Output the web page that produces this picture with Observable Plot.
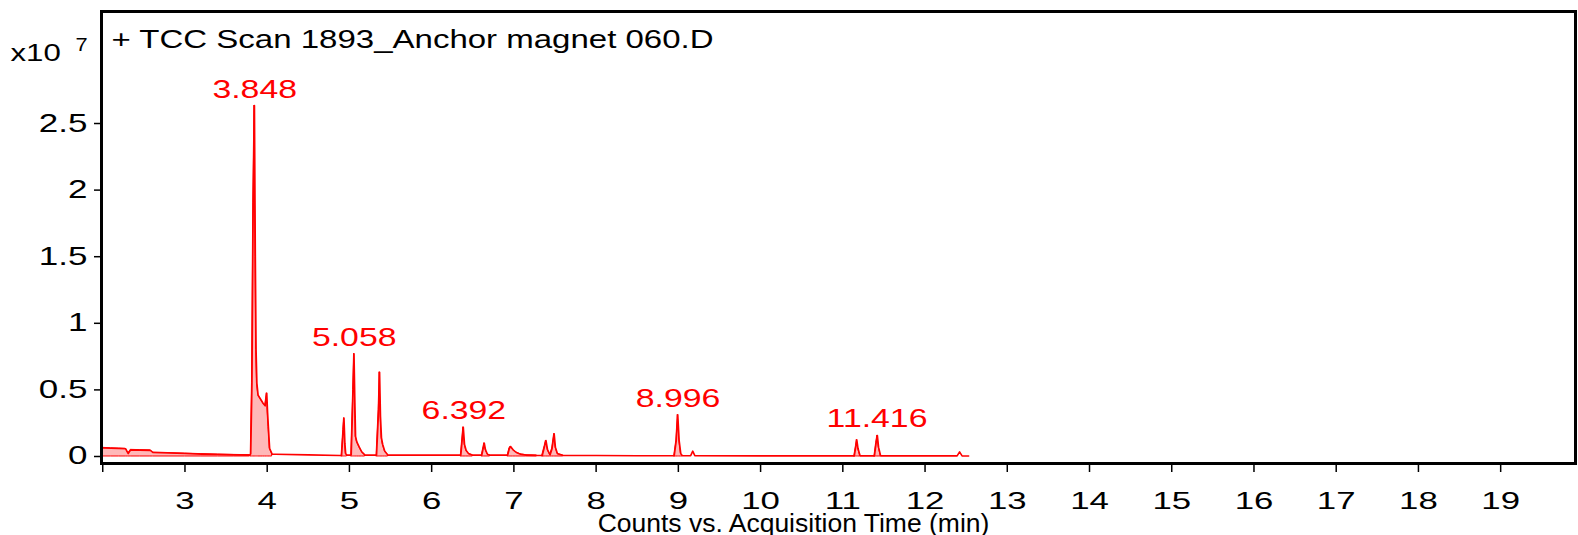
<!DOCTYPE html>
<html>
<head>
<meta charset="utf-8">
<script src="https://cdn.jsdelivr.net/npm/d3@7"></script>
<script src="https://cdn.jsdelivr.net/npm/@observablehq/plot@0.6"></script>
<style>
  html, body { margin: 0; padding: 0; background: #fff; }
  #chart svg { display: block; }
</style>
</head>
<body>
<div id="chart"></div>
<script>
// Retention time (min) of the chromatogram trace
const times = [
  2.00, 2.10, 2.20, 2.28, 2.31, 2.34, 2.45, 2.58, 2.61, 2.80, 3.00, 3.20, 3.40, 3.60, 3.79,
  3.80, 3.815, 3.83, 3.845, 3.856, 3.865, 3.875, 3.89, 3.92, 3.95, 3.975, 3.995, 4.005, 4.015, 4.03, 4.06,
  4.10, 4.50, 4.88,
  4.905, 4.925, 4.934, 4.945, 4.955, 4.97,
  5.00, 5.022, 5.045, 5.056, 5.065, 5.075, 5.09, 5.12, 5.15, 5.19,
  5.30, 5.33, 5.355, 5.367, 5.378, 5.39, 5.405, 5.43, 5.47,
  6.00, 6.355, 6.375, 6.385, 6.40, 6.42, 6.45, 6.50,
  6.61, 6.63, 6.64, 6.655, 6.68, 6.71,
  6.925, 6.945, 6.96, 6.99, 7.03, 7.08, 7.15, 7.28,
  7.345, 7.375, 7.39, 7.41, 7.44, 7.465, 7.49, 7.505, 7.53, 7.60,
  8.00, 8.50, 8.95, 8.975, 8.993, 9.01, 9.03, 9.05,
  9.15, 9.175, 9.20,
  10.0, 11.0, 11.14, 11.16, 11.17, 11.185, 11.21,
  11.385, 11.405, 11.42, 11.435, 11.46,
  12.0, 12.39, 12.42, 12.45, 12.53
];
// Counts (x10^7) at each time
const counts = [
  0.065, 0.062, 0.060, 0.058, 0.022, 0.050, 0.048, 0.046, 0.030, 0.026, 0.022, 0.018, 0.015, 0.012, 0.010,
  0.020, 0.550, 1.900, 2.635, 1.500, 0.800, 0.550, 0.460, 0.430, 0.400, 0.380, 0.475, 0.330, 0.220, 0.060, 0.018,
  0.017, 0.012, 0.008,
  0.008, 0.200, 0.288, 0.100, 0.020, 0.010,
  0.010, 0.012, 0.500, 0.771, 0.450, 0.150, 0.110, 0.070, 0.035, 0.010,
  0.010, 0.010, 0.350, 0.633, 0.300, 0.140, 0.090, 0.040, 0.010,
  0.010, 0.010, 0.150, 0.220, 0.090, 0.045, 0.020, 0.010,
  0.010, 0.070, 0.100, 0.050, 0.015, 0.010,
  0.010, 0.060, 0.075, 0.050, 0.030, 0.017, 0.010, 0.008,
  0.008, 0.080, 0.120, 0.050, 0.012, 0.060, 0.170, 0.070, 0.020, 0.008,
  0.007, 0.006, 0.006, 0.120, 0.313, 0.120, 0.020, 0.006,
  0.006, 0.040, 0.006,
  0.005, 0.005, 0.005, 0.080, 0.125, 0.060, 0.005,
  0.005, 0.100, 0.158, 0.070, 0.005,
  0.005, 0.005, 0.035, 0.005, 0.004
];
// Integrated (shaded) regions: start and end times
const regionStart = [2.00, 3.80, 4.905, 5.022, 5.33, 6.355, 6.61, 6.925, 7.345, 8.95, 11.14, 11.385];
const regionEnd   = [3.79, 4.06, 4.97, 5.19, 5.47, 6.50, 6.71, 7.28, 7.60, 9.05, 11.21, 11.46];
// Labelled peaks
const peakLabels = ["3.848", "5.058", "6.392", "8.996", "11.416"];
const peakTimes  = [3.848, 5.058, 6.392, 8.996, 11.416];
const peakCounts = [2.635, 0.771, 0.22, 0.313, 0.158];
// Axis ticks
const xTicks = [2,3,4,5,6,7,8,9,10,11,12,13,14,15,16,17,18,19];
const yTicks = [0, 0.5, 1, 1.5, 2, 2.5];
const yTickLabels = ["0", "0.5", "1", "1.5", "2", "2.5"];
const titleText = "+ TCC Scan 1893_Anchor magnet 060.D";
const xLabel = "Counts vs. Acquisition Time (min)";
const yExpBase = "x10";
const yExp = "7";

const trace = times.map((t, i) => ({t, v: counts[i]}));
const areaData = [];
regionStart.forEach((s, r) => {
  trace.forEach(d => { if (d.t >= s - 1e-9 && d.t <= regionEnd[r] + 1e-9) areaData.push({...d, r}); });
});
const peaks = peakLabels.map((l, i) => ({label: l, t: peakTimes[i], v: peakCounts[i]}));

const RED = "#ff0000";
const FONT = "Liberation Sans, Arial, Helvetica, sans-serif";

const chart = Plot.plot({
  width: 1578,
  height: 535,
  marginLeft: 101,
  marginRight: 3,
  marginTop: 11,
  marginBottom: 72,
  style: {fontFamily: FONT, background: "#fff", color: "#000", overflow: "visible"},
  x: {domain: [1.985, 19.91], axis: null},
  y: {domain: [-0.0526, 3.341], axis: null},
  marks: [
    Plot.areaY(areaData, {x: "t", y: "v", z: "r", fill: "#ffb8b8", stroke: RED, strokeWidth: 1, curve: "linear"}),
    Plot.line(trace, {x: "t", y: "v", stroke: RED, strokeWidth: 1.6, curve: "linear"}),
    Plot.axisY({ticks: yTicks, tickFormat: (d) => yTickLabels[yTicks.indexOf(d)], tickSize: 7, tickPadding: 7, fontSize: 25, stroke: "#000", strokeWidth: 1.5, label: null}),
    Plot.axisX({ticks: xTicks, tickFormat: (d) => d === 2 ? "" : String(d), tickSize: 9, tickPadding: 19, fontSize: 24, stroke: "#000", strokeWidth: 1.5, label: null}),
    Plot.frame({stroke: "#000", strokeWidth: 3}),
    Plot.text([titleText], {frameAnchor: "top-left", textAnchor: "start", lineAnchor: "bottom", dx: 10, dy: 36, fontSize: 26, fill: "#000"}),
    Plot.text([yExpBase], {frameAnchor: "top-left", textAnchor: "start", lineAnchor: "bottom", dx: -91, dy: 49, fontSize: 24, fill: "#000"}),
    Plot.text([yExp], {frameAnchor: "top-left", textAnchor: "start", lineAnchor: "bottom", dx: -26, dy: 39, fontSize: 19, fill: "#000"}),
    Plot.text(peaks, {x: "t", y: "v", text: "label", dy: -8, lineAnchor: "bottom", textAnchor: "middle", fontSize: 26, fill: RED}),
    Plot.text([xLabel], {frameAnchor: "bottom", textAnchor: "middle", lineAnchor: "bottom", dx: -45, dy: 68, fontSize: 26.5, fill: "#000"})
  ]
});
document.getElementById("chart").append(chart);

// Horizontal stretch of the text glyphs, as in the original (stretched) image
function stretchFor(t) {
  const g = t.closest("g[aria-label]");
  const al = g ? g.getAttribute("aria-label") : "";
  if (al.includes("x-axis tick label")) return 1.45;
  if (al.includes("y-axis tick label")) return 1.4;
  const s = t.textContent;
  if (s === xLabel) return 1;
  if (s === titleText) return 1.27;
  if (s === yExpBase) return 1.3;
  if (s === yExp) return 1.15;
  if (peakLabels.includes(s)) return 1.3;
  return 1;
}
chart.querySelectorAll("text").forEach(t => {
  const f = stretchFor(t);
  if (f === 1) return;
  let tr = t.getAttribute("transform");
  if (tr == null) {
    const x = +(t.getAttribute("x") || 0), y = +(t.getAttribute("y") || 0);
    t.removeAttribute("x"); t.removeAttribute("y");
    tr = `translate(${x},${y})`;
  }
  t.setAttribute("transform", `${tr} scale(${f},1)`);
});
</script>
</body>
</html>
